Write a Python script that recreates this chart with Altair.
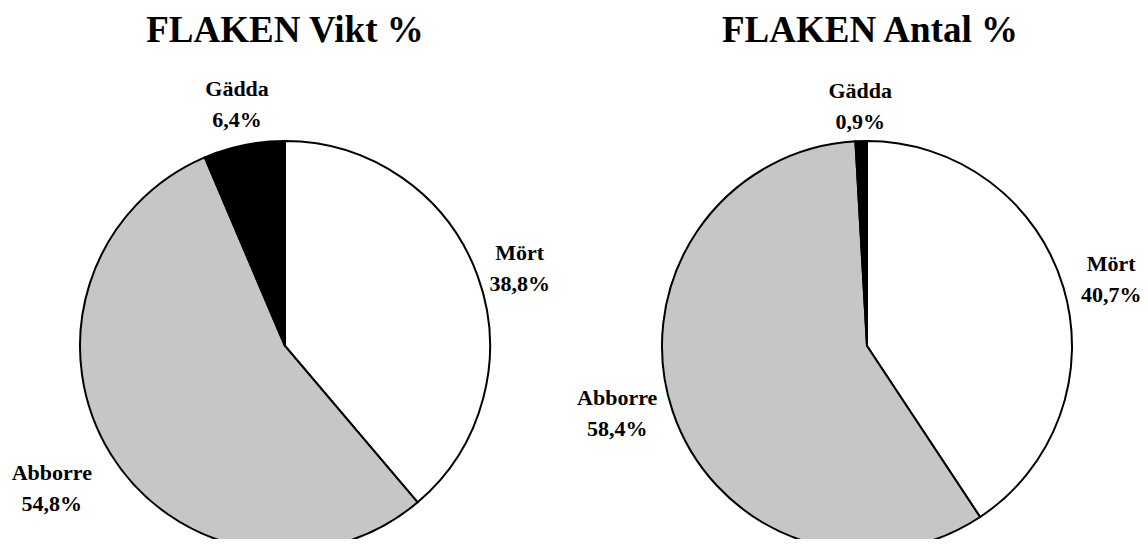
import math
import altair as alt
import pandas as pd

# ---- data ----
species = ["Mört", "Abborre", "Gädda"]
vikt = [38.8, 54.8, 6.4]
antal = [40.7, 58.4, 0.9]
titles = ["FLAKEN Vikt %", "FLAKEN Antal %"]
panels = ["vikt", "antal"]

rows = []
for p, vals in zip(panels, [vikt, antal]):
    for i, (s, v) in enumerate(zip(species, vals)):
        rows.append({"panel": p, "species": s, "value": v, "order": i,
                     "label": f"{s}\n{v:.1f}%".replace(".", ",")})
df = pd.DataFrame(rows)

# ---- layout / style ----
W, H = 1132, 531
FONT = "Liberation Serif"
R = 205
centers = {"vikt": (277, 338), "antal": (859, 338)}
title_x = {"vikt": 277, "antal": 862}
label_r = {
    "vikt": {"Mört": 250, "Abborre": 274, "Gädda": 245},
    "antal": {"Mört": 255, "Abborre": 259, "Gädda": 240},
}
label_off = {  # (dx, dy) nudges
    "vikt": {"Mört": (0, -7), "Abborre": (0, -17), "Gädda": (1, -17)},
    "antal": {"Mört": (0, -9), "Abborre": (-4, -30), "Gädda": (0, -15)},
}
fills = ["#ffffff", "#c6c6c6", "#000000"]

layers = []
for p, t in zip(panels, titles):
    cx, cy = centers[p]
    base = alt.Chart(df).transform_filter(alt.datum.panel == p)
    arc = base.mark_arc(outerRadius=R, stroke="black", strokeWidth=2).encode(
        theta=alt.Theta("value:Q", stack=True),
        order=alt.Order("order:Q"),
        color=alt.Color("species:N", scale=alt.Scale(domain=species, range=fills), legend=None),
        x=alt.value(cx),
        y=alt.value(cy),
    )
    layers.append(arc)

    lab = base.transform_window(
        cum="sum(value)", sort=[alt.SortField("order")], frame=[None, 0]
    ).transform_calculate(mid="datum.cum - datum.value / 2")
    for s in species:
        dx, dy = label_off[p][s]
        txt = lab.transform_filter(alt.datum.species == s).mark_text(
            radius=label_r[p][s], font=FONT, fontSize=22, fontWeight="bold",
            lineBreak="\n", lineHeight=31, align="center", baseline="middle", color="black",
            dx=dx, dy=dy,
        ).encode(
            theta=alt.Theta("mid:Q", scale=alt.Scale(domain=[0, 100], range=[0, 2 * math.pi])),
            text="label:N",
            x=alt.value(cx),
            y=alt.value(cy),
        )
        layers.append(txt)

    ttl = alt.Chart(pd.DataFrame({"t": [t]})).mark_text(
        font=FONT, fontSize=37, fontWeight="bold", align="center",
        baseline="alphabetic", color="black",
    ).encode(text="t:N", x=alt.value(title_x[p]), y=alt.value(34))
    layers.append(ttl)

chart = alt.layer(*layers).resolve_scale(theta="independent").properties(
    width=W, height=H, padding=0, autosize=alt.AutoSizeParams(type="none"),
    background="white",
).configure_view(stroke=None)

chart.save("out.html", embed_options={"renderer": "svg", "actions": False})
